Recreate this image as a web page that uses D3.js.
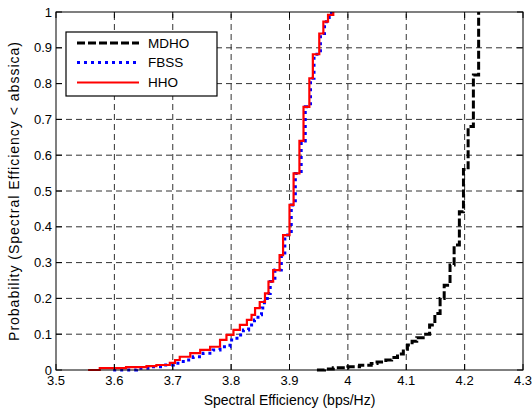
<!DOCTYPE html>
<html lang="en">
<head>
	<meta charset="UTF-8">
	<title>spectral efficiency cdf</title>
	<style>
		body { margin: 0; background: #fff; }
		text { font-family: "Liberation Sans", Arial, sans-serif; font-size: 13px; fill: #000; }
	</style>
</head>
<body>

	<div id="viz-wrapper"></div>

	<script src="https://cdn.jsdelivr.net/npm/d3@7/dist/d3.min.js"></script>

	<script type="text/javascript">
    // svg size
    var width = 532,
        height = 412;

    // plot box edges (matlab style axes)
    var boxLeft = 56, boxRight = 523, boxTop = 12, boxBottom = 370;

    // tick values and the labels matlab prints for them
    var xTicks = [3.5, 3.6, 3.7, 3.8, 3.9, 4.0, 4.1, 4.2, 4.3];
    var xTickLabels = ["3.5", "3.6", "3.7", "3.8", "3.9", "4", "4.1", "4.2", "4.3"];
    var yTicks = [0, 0.1, 0.2, 0.3, 0.4, 0.5, 0.6, 0.7, 0.8, 0.9, 1];
    var yTickLabels = ["0", "0.1", "0.2", "0.3", "0.4", "0.5", "0.6", "0.7", "0.8", "0.9", "1"];

    var mdhoX = [3.947, 3.96, 3.975, 4.0, 4.02, 4.04, 4.05, 4.065, 4.075, 4.085, 4.095, 4.102, 4.11, 4.118, 4.129,
                 4.140, 4.149, 4.158, 4.165, 4.175, 4.182, 4.191, 4.198, 4.206, 4.215, 4.224];
    var mdhoP = [0, 0.003, 0.006, 0.009, 0.013, 0.018, 0.022, 0.028, 0.035, 0.045, 0.058, 0.07, 0.08, 0.09, 0.1,
                 0.126, 0.158, 0.2, 0.237, 0.293, 0.349, 0.442, 0.56, 0.68, 0.824, 0.968];
    // last point closes the curve at 1
    var mdhoEnd = 1.0;

    var fbssX = [3.598, 3.638, 3.661, 3.684, 3.701, 3.718, 3.735, 3.752, 3.769, 3.781, 3.798, 3.81, 3.821, 3.83,
                 3.84, 3.846, 3.852, 3.857, 3.862, 3.867, 3.875, 3.886, 3.892, 3.903, 3.91, 3.92, 3.927, 3.936,
                 3.942, 3.953, 3.96, 3.968, 3.972];
    var fbssP = [0, 0.005, 0.009, 0.014, 0.019, 0.028, 0.037, 0.047, 0.056, 0.065, 0.084, 0.098, 0.112, 0.126,
                 0.14, 0.154, 0.173, 0.19, 0.214, 0.247, 0.279, 0.321, 0.377, 0.461, 0.549, 0.64, 0.735, 0.815,
                 0.882, 0.94, 0.973, 0.992, 1.0];

    var hhoX = [3.555, 3.575, 3.62, 3.655, 3.672, 3.695, 3.704, 3.712, 3.73, 3.747, 3.764, 3.781, 3.792, 3.804,
                3.815, 3.827, 3.835, 3.841, 3.849, 3.858, 3.864, 3.872, 3.883, 3.889, 3.9, 3.907, 3.917, 3.924,
                3.934, 3.94, 3.951, 3.958, 3.966, 3.975];
    var hhoP = [0, 0.005, 0.008, 0.011, 0.014, 0.02, 0.028, 0.037, 0.047, 0.056, 0.065, 0.084, 0.098, 0.112,
                0.126, 0.14, 0.154, 0.173, 0.19, 0.214, 0.247, 0.279, 0.321, 0.377, 0.461, 0.549, 0.64, 0.735,
                0.815, 0.882, 0.94, 0.973, 0.992, 1.0];

    var seriesNames = ["MDHO", "FBSS", "HHO"];

    var viz = d3.select("#viz-wrapper")
                .append('svg')
                .attr('id', 'viz')
                .attr('width', width)
                .attr('height', height);

    viz.append('rect').attr('width', width).attr('height', height).attr('fill', '#fff');

    var x = d3.scaleLinear().domain([3.5, 4.3]).range([boxLeft, boxRight]);
    var y = d3.scaleLinear().domain([0, 1]).range([boxBottom, boxTop]);

    // dashed grid
    var grid = viz.append('g').attr('stroke', '#333').attr('stroke-width', 1).attr('stroke-dasharray', '6,4');
    grid.selectAll('.vg').data(xTicks.slice(1, -1)).enter().append('line')
        .attr('x1', function(d) { return x(d); }).attr('x2', function(d) { return x(d); })
        .attr('y1', boxBottom).attr('y2', boxTop);
    grid.selectAll('.hg').data(yTicks.slice(1, -1)).enter().append('line')
        .attr('x1', boxLeft).attr('x2', boxRight)
        .attr('y1', function(d) { return y(d); }).attr('y2', function(d) { return y(d); });

    // stairs
    var stair = d3.line()
        .x(function(d) { return x(d[0]); })
        .y(function(d) { return y(d[1]); })
        .curve(d3.curveStepAfter);

    var mdhoPts = d3.zip(mdhoX, mdhoP);
    mdhoPts.push([mdhoX[mdhoX.length - 1], mdhoEnd]);

    var curves = [
      { pts: mdhoPts, color: '#000', w: 3, dash: '8,3' },
      { pts: d3.zip(fbssX, fbssP), color: '#0000ff', w: 3, dash: '3,4' },
      { pts: d3.zip(hhoX, hhoP), color: '#ff0000', w: 2.2, dash: null }
    ];

    viz.selectAll('.curve').data(curves).enter().append('path')
        .attr('class', 'curve')
        .attr('d', function(d) { return stair(d.pts); })
        .attr('fill', 'none')
        .attr('stroke', function(d) { return d.color; })
        .attr('stroke-width', function(d) { return d.w; })
        .attr('stroke-dasharray', function(d) { return d.dash; });

    // axes: box with inward ticks on every side
    var tickLen = 6;
    var axes = viz.append('g').attr('stroke', '#000').attr('stroke-width', 1);
    axes.append('rect').attr('x', boxLeft).attr('y', boxTop)
        .attr('width', boxRight - boxLeft).attr('height', boxBottom - boxTop).attr('fill', 'none');
    xTicks.forEach(function(t) {
      axes.append('line').attr('x1', x(t)).attr('x2', x(t)).attr('y1', boxBottom).attr('y2', boxBottom - tickLen);
      axes.append('line').attr('x1', x(t)).attr('x2', x(t)).attr('y1', boxTop).attr('y2', boxTop + tickLen);
    });
    yTicks.forEach(function(t) {
      axes.append('line').attr('x1', boxLeft).attr('x2', boxLeft + tickLen).attr('y1', y(t)).attr('y2', y(t));
      axes.append('line').attr('x1', boxRight).attr('x2', boxRight - tickLen).attr('y1', y(t)).attr('y2', y(t));
    });

    viz.selectAll('.xl').data(xTicks).enter().append('text')
        .attr('x', function(d) { return x(d); })
        .attr('y', 385)
        .attr('text-anchor', 'middle')
        .text(function(d, i) { return xTickLabels[i]; });

    viz.selectAll('.yl').data(yTicks).enter().append('text')
        .attr('x', 52)
        .attr('y', function(d) { return y(d); })
        .attr('dy', '0.35em')
        .attr('text-anchor', 'end')
        .text(function(d, i) { return yTickLabels[i]; });

    viz.append('text')
        .attr('x', (boxLeft + boxRight) / 2)
        .attr('y', 405)
        .attr('text-anchor', 'middle')
        .style('font-size', '14px')
        .text('Spectral Efficiency (bps/Hz)');

    // matlab spreads the rotated label out a bit
    viz.append('text')
        .attr('transform', 'translate(19,' + (boxTop + boxBottom) / 2 + ') rotate(-90)')
        .attr('text-anchor', 'middle')
        .style('font-size', '14px')
        .style('letter-spacing', '1px')
        .text('Probability (Spectral Efficiency < abssica)');

    // legend
    var legend = viz.append('g');
    legend.append('rect').attr('x', 66).attr('y', 32).attr('width', 151).attr('height', 64)
        .attr('fill', '#fff').attr('stroke', '#000').attr('stroke-width', 1.2);
    var rowY = [43, 62.5, 82.5];
    curves.forEach(function(c, i) {
      legend.append('line').attr('x1', 77).attr('x2', 139).attr('y1', rowY[i]).attr('y2', rowY[i])
          .attr('stroke', c.color).attr('stroke-width', c.w).attr('stroke-dasharray', c.dash);
      legend.append('text').attr('x', 148).attr('y', rowY[i]).attr('dy', '0.35em')
          .style('font-size', '13.5px').text(seriesNames[i]);
    });
 	</script>

</body>
</html>
